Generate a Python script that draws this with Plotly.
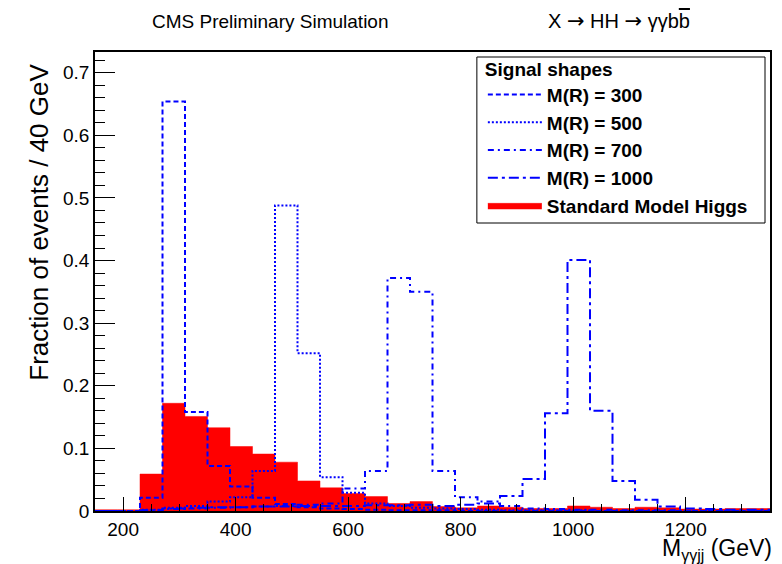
import plotly.graph_objects as go

# ---- data (fraction of events per 40 GeV bin) ----
bin_edges = [150, 190, 230, 270, 310, 350, 390, 430, 470, 510, 550, 590, 630, 670, 710,
             750, 790, 830, 870, 910, 950, 990, 1030, 1070, 1110, 1150, 1190, 1230, 1270,
             1310, 1350]

sm_higgs = [0.002, 0.002, 0.059, 0.172, 0.151, 0.133, 0.103, 0.091, 0.078, 0.048,
            0.037, 0.028, 0.023, 0.012, 0.015, 0.007, 0.005, 0.008, 0.006, 0.004,
            0.004, 0.008, 0.006, 0.004, 0.006, 0.005, 0.003, 0.003, 0.004, 0.004]

mr300 = [0.000, 0.000, 0.021, 0.654, 0.158, 0.072, 0.039, 0.021, 0.011, 0.006,
         0.004, 0.003, 0.002, 0.001, 0.001, 0.001, 0.000, 0.000, 0.000, 0.000,
         0.000, 0.000, 0.000, 0.000, 0.000, 0.000, 0.000, 0.000, 0.000, 0.000]

mr500 = [0.000, 0.000, 0.002, 0.005, 0.008, 0.015, 0.022, 0.064, 0.488, 0.252,
         0.054, 0.029, 0.012, 0.008, 0.005, 0.004, 0.003, 0.002, 0.001, 0.001,
         0.001, 0.001, 0.000, 0.000, 0.000, 0.000, 0.000, 0.000, 0.000, 0.000]

mr700 = [0.000, 0.000, 0.001, 0.003, 0.004, 0.005, 0.006, 0.007, 0.008, 0.010,
         0.012, 0.036, 0.064, 0.372, 0.350, 0.064, 0.022, 0.015, 0.008, 0.004,
         0.003, 0.002, 0.002, 0.001, 0.001, 0.001, 0.000, 0.000, 0.000, 0.000]

mr1000 = [0.000, 0.000, 0.001, 0.004, 0.005, 0.006, 0.006, 0.007, 0.007, 0.008,
          0.008, 0.008, 0.009, 0.009, 0.010, 0.008, 0.010, 0.012, 0.024, 0.051,
          0.156, 0.401, 0.160, 0.048, 0.018, 0.007, 0.004, 0.003, 0.002, 0.002]

signal_series = [
    ("M(R) = 300", mr300, "5px,3px"),
    ("M(R) = 500", mr500, "2px,2px"),
    ("M(R) = 700", mr700, "6px,4px,2px,4px"),
    ("M(R) = 1000", mr1000, "10px,4px,3px,4px"),
]

x_ticks = [200, 400, 600, 800, 1000, 1200]
y_ticks = [0, 0.1, 0.2, 0.3, 0.4, 0.5, 0.6, 0.7]


def step_y(vals):
    return list(vals) + [vals[-1]]


fig = go.Figure()

fig.add_trace(go.Scatter(
    x=bin_edges, y=step_y(sm_higgs), mode="lines",
    line=dict(shape="hv", color="#ff0000", width=0.5),
    fill="tozeroy", fillcolor="#ff0000",
    name="Standard Model Higgs", legendrank=2000,
))

for name, vals, dash in signal_series:
    fig.add_trace(go.Scatter(
        x=bin_edges, y=step_y(vals), mode="lines",
        line=dict(shape="hv", color="#0000ff", width=2, dash=dash),
        name=name,
    ))

FONT = "Liberation Sans, Arial, Helvetica, sans-serif"

axis_common = dict(
    showgrid=False, zeroline=False, showline=True, linecolor="black", linewidth=1.5,
    mirror=True, ticks="inside", tickcolor="black", tickwidth=1.2,
    tickfont=dict(size=19, family=FONT, color="black"),
)

fig.update_layout(
    width=782, height=564,
    margin=dict(l=95, r=10, t=52, b=53),
    paper_bgcolor="white", plot_bgcolor="white",
    font=dict(family=FONT, color="black"),
    xaxis=dict(range=[150, 1350], tickvals=x_ticks, ticklen=14,
               minor=dict(dtick=50, tick0=0, ticklen=7, ticks="inside",
                          tickcolor="black", tickwidth=1.2, showgrid=False),
               ticklabelstandoff=0, **axis_common),
    yaxis=dict(range=[0, 0.733], tickvals=y_ticks, ticklen=20,
               minor=dict(dtick=0.02, tick0=0, ticklen=10, ticks="inside",
                          tickcolor="black", tickwidth=1.2, showgrid=False),
               **axis_common),
    showlegend=True,
    legend=dict(
        x=(484 - 95) / 677, y=(511 - 51) / 459, xanchor="left", yanchor="top",
        bgcolor="rgba(0,0,0,0)", borderwidth=0,
        font=dict(size=19, family=FONT, color="black", weight="bold"),
        title=dict(text="<b>Signal shapes</b>", font=dict(size=19, family=FONT)),
        itemwidth=54, tracegroupgap=0,
    ),
)

# legend frame
fig.add_shape(type="rect", xref="paper", yref="paper",
              x0=(478 - 95) / 677, x1=(767 - 95) / 677,
              y0=(511 - 223) / 459, y1=(511 - 57) / 459,
              line=dict(color="black", width=1), fillcolor="white", layer="above")

# titles
ARROW = "<span style=\"font-family:DejaVu Sans;font-size:21px\">\u2192</span>"
fig.add_annotation(text="CMS Preliminary Simulation", xref="paper", yref="paper",
                   x=(271 - 95) / 677, y=(511 - 21) / 459, xanchor="center", yanchor="middle",
                   showarrow=False, font=dict(size=19, family=FONT))
fig.add_annotation(text="X " + ARROW + " HH " + ARROW + " \u03b3\u03b3b<span style=\"text-decoration:overline\">b</span>",
                   xref="paper", yref="paper",
                   x=(621 - 95) / 677, y=(511 - 21) / 459, xanchor="center", yanchor="middle",
                   showarrow=False, font=dict(size=20, family=FONT))
fig.add_annotation(text="Fraction of events / 40 GeV", xref="paper", yref="paper",
                   x=(38 - 95) / 677, y=(511 - 62) / 459, xanchor="center", yanchor="top",
                   textangle=-90, showarrow=False, font=dict(size=26, family=FONT))
fig.add_annotation(text="M<sub><span style=\"font-size:16px\">\u03b3\u03b3jj</span></sub> (GeV)",
                   xref="paper", yref="paper",
                   x=(776 - 95) / 677, y=0, yshift=-38, xanchor="right", yanchor="middle",
                   showarrow=False, font=dict(size=23, family=FONT))

fig.write_html("out.html")
